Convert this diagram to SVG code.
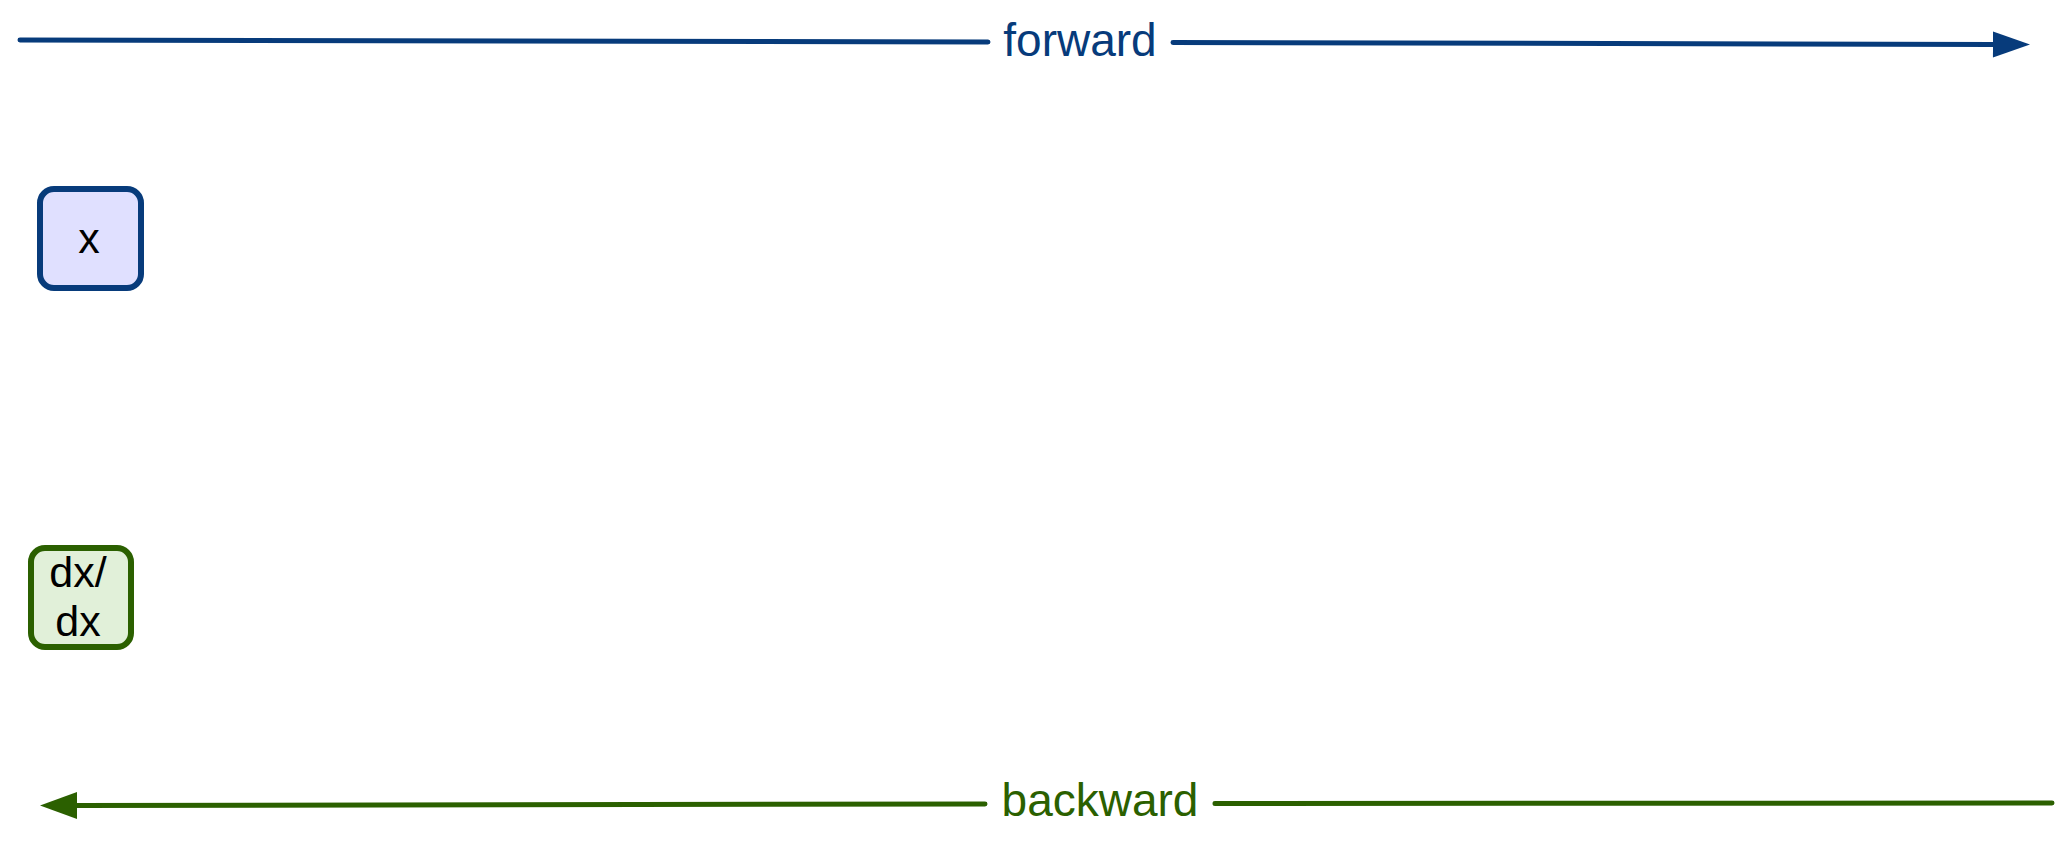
<svg xmlns="http://www.w3.org/2000/svg" width="2069" height="847" viewBox="0 0 2069 847">
  <style>
    .lbl { font-family: "Liberation Sans", Arial, sans-serif; font-size: 46px; text-anchor: middle; }
    .node { font-family: "Liberation Sans", Arial, sans-serif; font-size: 43px; text-anchor: middle; fill: #000000; }
    .fwd { stroke: #073b7b; stroke-width: 5; fill: none; stroke-linecap: round; }
    .bwd { stroke: #2b6000; stroke-width: 5; fill: none; stroke-linecap: round; }
  </style>
  <defs>
    <marker id="arrF" markerUnits="userSpaceOnUse" markerWidth="40" markerHeight="30" refX="0" refY="13" orient="auto" overflow="visible">
      <path d="M0,0 L37,13 L0,26 Z" fill="#073b7b"/>
    </marker>
    <marker id="arrB" markerUnits="userSpaceOnUse" markerWidth="40" markerHeight="30" refX="0" refY="13.5" orient="auto" overflow="visible">
      <path d="M0,0 L37,13.5 L0,27 Z" fill="#2b6000"/>
    </marker>
  </defs>
  <rect width="2069" height="847" fill="#ffffff"/>
  <g id="connectors">
    <g id="forward">
      <path class="fwd" d="M20,40 L988,42"/>
      <path class="fwd" d="M1173,42.5 L1993,44.5" marker-end="url(#arrF)"/>
      <text class="lbl" x="1080" y="56" fill="#073b7b">forward</text>
    </g>
    <g id="backward">
      <path class="bwd" d="M2052,803 L1215,803.5"/>
      <path class="bwd" d="M985,804 L77,805.5" marker-end="url(#arrB)"/>
      <text class="lbl" x="1100" y="816" fill="#2b6000">backward</text>
    </g>
  </g>
  <g id="node-x">
    <rect x="40" y="189" width="101" height="99" rx="14" ry="14" fill="#e0e0ff" stroke="#073b7b" stroke-width="6"/>
    <text class="node" x="89" y="253">x</text>
  </g>
  <g id="node-dxdx">
    <rect x="31" y="548" width="100" height="99" rx="14" ry="14" fill="#e1f0d9" stroke="#2b6000" stroke-width="6"/>
    <text class="node" x="78" y="587">dx/</text>
    <text class="node" x="78" y="636">dx</text>
  </g>
</svg>
